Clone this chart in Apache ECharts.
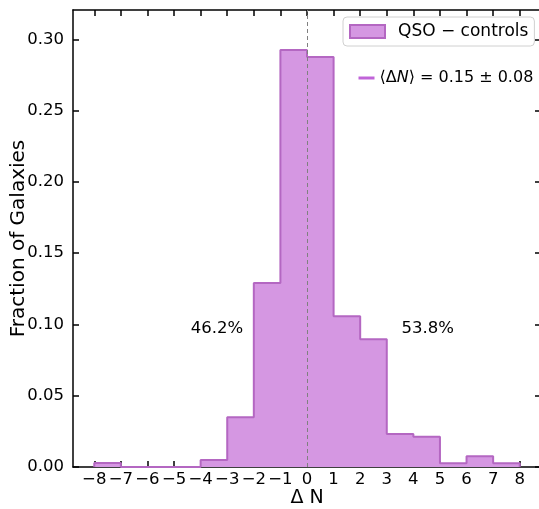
<!DOCTYPE html>
<html>
<head>
<meta charset="utf-8">
<script src="https://cdn.jsdelivr.net/npm/echarts@6/dist/echarts.min.js"></script>
<style>html,body{margin:0;padding:0;background:#fff}#c{width:539px;height:509px}</style>
</head>
<body>
<div id="c"></div>
<script>
// Data
var binEdges = [-8,-7,-6,-5,-4,-3,-2,-1,0,1,2,3,4,5,6,7,8];
var fractions = [0.0028,0,0,0,0.0049,0.0349,0.129,0.2925,0.2876,0.1058,0.0896,0.0232,0.0213,0.0026,0.0075,0.0026];
var xTicks = [-8,-7,-6,-5,-4,-3,-2,-1,0,1,2,3,4,5,6,7,8];
var yTicks = [0,0.05,0.10,0.15,0.20,0.25,0.30];
var seriesName = 'QSO \u2212 controls';
var annoText = ['46.2%','53.8%'];
var annoX = [-3.39, 4.54];
var annoY = [0.0967, 0.0967];

var FILL = '#d597e2', EDGE = '#b467c2', MEANLINE = '#c064d8';
var FONT = 'DejaVu Sans';

var stepData = [[binEdges[0], 0]];
for (var i = 0; i < fractions.length; i++) stepData.push([binEdges[i], fractions[i]]);
stepData.push([binEdges[binEdges.length-1], fractions[fractions.length-1]]);
stepData.push([binEdges[binEdges.length-1], 0]);

function fmtX(v){ return v < 0 ? '\u2212' + Math.abs(v) : String(v); }

var axisLine = {show:true, onZero:false, lineStyle:{color:'#000', width:1.5}};
var tickX = {show:true, inside:true, length:6, lineStyle:{color:'#000', width:1.5}, customValues:xTicks};
var tickY = {show:true, inside:true, length:6, lineStyle:{color:'#000', width:1.5}, customValues:yTicks};

var chart = echarts.init(document.getElementById('c'));
chart.setOption({
  animation:false,
  textStyle:{fontFamily:FONT},
  grid:{left:73, top:10, width:468, height:457, containLabel:false, outerBoundsMode:'none'},
  legend:{
    left:343, top:17, orient:'vertical',
    backgroundColor:'#fff', borderColor:'#d0d0d0', borderWidth:1, borderRadius:4,
    padding:[6,6,6,6], itemWidth:35, itemHeight:13,
    textStyle:{fontFamily:FONT, fontSize:17, color:'#000', padding:[0,0,0,8]},
    data:[{name:seriesName, icon:'rect', itemStyle:{color:FILL, borderColor:EDGE, borderWidth:2}}]
  },
  xAxis:[{
    type:'value', min:-8.8, max:8.8, position:'bottom',
    axisLine:axisLine, axisTick:tickX, splitLine:{show:false},
    axisLabel:{customValues:xTicks, formatter:fmtX, fontSize:16.5, color:'#000', margin:4, fontFamily:FONT},
    name:'\u0394 N', nameLocation:'middle', nameGap:22, nameMoveOverlap:false,
    nameTextStyle:{fontSize:19, color:'#000', fontFamily:FONT, verticalAlign:'top'}
  },{
    type:'value', min:-8.8, max:8.8, position:'top',
    axisLine:axisLine, axisTick:tickX, splitLine:{show:false}, axisLabel:{show:false}
  }],
  yAxis:[{
    type:'value', min:0, max:0.3206, position:'left',
    axisLine:axisLine, axisTick:tickY, splitLine:{show:false},
    axisLabel:{customValues:yTicks, formatter:function(v){return v.toFixed(2);}, fontSize:16.5, color:'#000', margin:9, fontFamily:FONT},
    name:'Fraction of Galaxies', nameLocation:'middle', nameGap:44, nameMoveOverlap:false,
    nameTextStyle:{fontSize:20, color:'#000', fontFamily:FONT}
  },{
    type:'value', min:0, max:0.3206, position:'right',
    axisLine:axisLine, axisTick:tickY, splitLine:{show:false}, axisLabel:{show:false}
  }],
  series:[{
    name:seriesName, type:'line', step:'end', data:stepData,
    xAxisIndex:0, yAxisIndex:0,
    symbol:'none', showSymbol:false,
    lineStyle:{color:EDGE, width:2},
    areaStyle:{color:FILL, opacity:1},
    itemStyle:{color:FILL},
    markLine:{
      silent:true, symbol:['none','none'], label:{show:false},
      lineStyle:{color:'#808080', type:[4,3], width:1},
      data:[{xAxis:0}]
    },
    markPoint:{
      symbol:'rect', symbolSize:0,
      label:{show:true, position:'inside', fontSize:16.5, color:'#000', fontFamily:FONT,
        formatter:function(p){return p.name;}},
      data:annoText.map(function(t,i){return {name:t, coord:[annoX[i], annoY[i]]};})
    }
  }],
  graphic:[{
    type:'group', left:356, top:70,
    children:[
      {type:'line', shape:{x1:0,y1:8,x2:16,y2:8}, style:{stroke:MEANLINE, lineWidth:3}},
      {type:'text', x:21, y:8, style:{
        text:'{a|\u27E8\u0394}{b|N}{a|\u27E9 = 0.15 \u00B1 0.08}',
        verticalAlign:'middle', fill:'#000',
        rich:{a:{fontSize:16, fontFamily:FONT, fill:'#000'}, b:{fontSize:16, fontFamily:FONT, fontStyle:'italic', fill:'#000'}}
      }}
    ]
  }]
});
</script>
</body>
</html>
